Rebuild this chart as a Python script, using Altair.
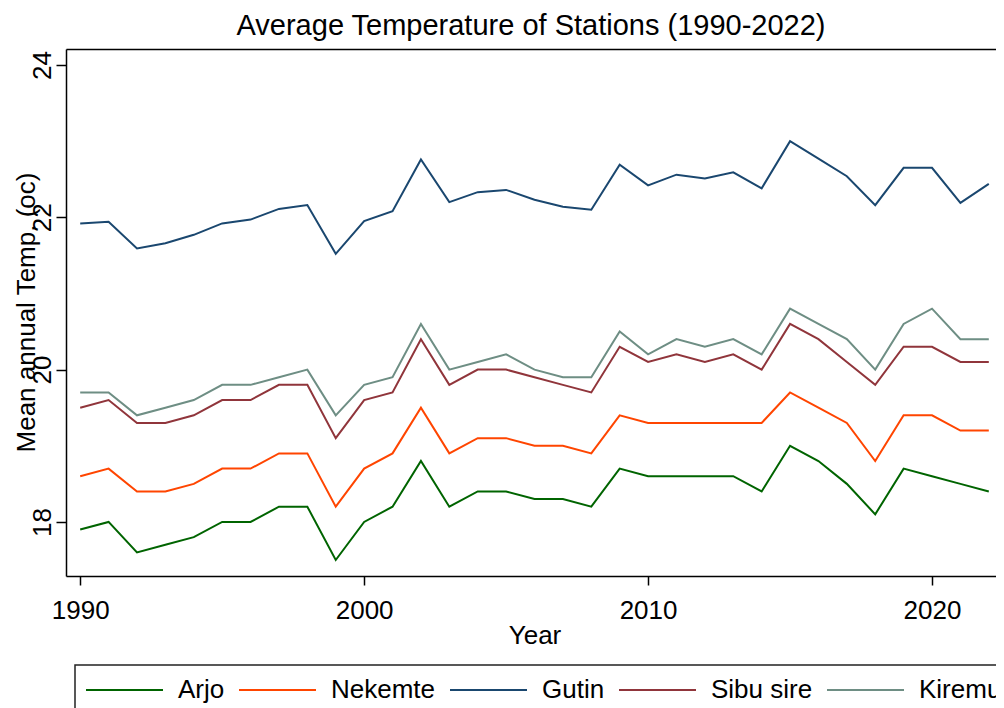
import altair as alt
import pandas as pd

years = list(range(1990, 2023))

arjo = [17.9, 18.0, 17.6, 17.7, 17.8, 18.0, 18.0, 18.2, 18.2, 17.5, 18.0,
        18.2, 18.8, 18.2, 18.4, 18.4, 18.3, 18.3, 18.2, 18.7, 18.6, 18.6,
        18.6, 18.6, 18.4, 19.0, 18.8, 18.5, 18.1, 18.7, 18.6, 18.5, 18.4]
nekemte = [18.6, 18.7, 18.4, 18.4, 18.5, 18.7, 18.7, 18.9, 18.9, 18.2, 18.7,
           18.9, 19.5, 18.9, 19.1, 19.1, 19.0, 19.0, 18.9, 19.4, 19.3, 19.3,
           19.3, 19.3, 19.3, 19.7, 19.5, 19.3, 18.8, 19.4, 19.4, 19.2, 19.2]
gutin = [21.92, 21.94, 21.59, 21.66, 21.77, 21.92, 21.97, 22.11, 22.16, 21.52, 21.95,
         22.08, 22.76, 22.20, 22.33, 22.36, 22.23, 22.14, 22.10, 22.69, 22.42, 22.56,
         22.51, 22.59, 22.38, 23.00, 22.77, 22.54, 22.16, 22.65, 22.65, 22.19, 22.44]
sibu_sire = [19.5, 19.6, 19.3, 19.3, 19.4, 19.6, 19.6, 19.8, 19.8, 19.1, 19.6,
             19.7, 20.4, 19.8, 20.0, 20.0, 19.9, 19.8, 19.7, 20.3, 20.1, 20.2,
             20.1, 20.2, 20.0, 20.6, 20.4, 20.1, 19.8, 20.3, 20.3, 20.1, 20.1]
kiremu = [19.7, 19.7, 19.4, 19.5, 19.6, 19.8, 19.8, 19.9, 20.0, 19.4, 19.8,
          19.9, 20.6, 20.0, 20.1, 20.2, 20.0, 19.9, 19.9, 20.5, 20.2, 20.4,
          20.3, 20.4, 20.2, 20.8, 20.6, 20.4, 20.0, 20.6, 20.8, 20.4, 20.4]

stations = ["Arjo", "Nekemte", "Gutin", "Sibu sire", "Kiremu"]
colors = ["#006400", "#FF4500", "#1A476F", "#90353B", "#6E8E84"]
series = [arjo, nekemte, gutin, sibu_sire, kiremu]

x_ticks = [1990, 2000, 2010, 2020]
y_ticks = [18, 20, 22, 24]

rows = []
for name, vals in zip(stations, series):
    for yr, v in zip(years, vals):
        rows.append({"Year": yr, "Temp": v, "Station": name})
df = pd.DataFrame(rows)

FONT = "Liberation Sans"

x_scale = alt.Scale(domain=[1989.5, 2022.5], range=[0, 937], nice=False, zero=False)
y_scale = alt.Scale(domain=[17.29, 24.21], nice=False, zero=False)

y_axis = alt.Axis(values=y_ticks, format="d", title="Mean annual Temp. (oc)",
                  grid=False, tickSize=10, labelPadding=6,
                  labelAngle=270, labelAlign="center", labelBaseline="alphabetic",
                  titleAngle=270, titleAlign="center", titleBaseline="alphabetic",
                  titleX=-32, titleY=263)

lines = alt.Chart(df).mark_line(strokeWidth=2).encode(
    x=alt.X("Year:Q", scale=x_scale,
            axis=alt.Axis(values=x_ticks, format="d", title="Year", grid=False,
                          tickSize=9, labelPadding=33, labelBaseline="alphabetic",
                          labelAlign="center",
                          titleBaseline="alphabetic", titleY=67)),
    y=alt.Y("Temp:Q", scale=y_scale, axis=y_axis),
    color=alt.Color("Station:N",
                    scale=alt.Scale(domain=stations, range=colors),
                    sort=stations,
                    legend=alt.Legend(orient="none", legendX=9, legendY=616,
                                      direction="horizontal", title=None,
                                      symbolType="stroke", symbolSize=5929,
                                      symbolStrokeWidth=2, clipHeight=30,
                                      labelFontSize=26,
                                      labelFont=FONT, labelColor="black",
                                      labelOffset=14, columnPadding=13,
                                      padding=10, strokeColor="#222222",
                                      fillColor="white", labelLimit=400)),
)

top_frame = alt.Chart(df).mark_line(opacity=0).encode(
    x=alt.X("Year:Q", scale=x_scale,
            axis=alt.Axis(orient="top", labels=False, ticks=False, title=None,
                          grid=False, domain=True)),
    y=alt.Y("Temp:Q", scale=y_scale, axis=y_axis),
)

chart = alt.layer(lines, top_frame).resolve_axis(x="independent").properties(
    width=930,
    height=527,
    title=alt.TitleParams("Average Temperature of Stations (1990-2022)",
                          anchor="middle", frame="group", fontSize=29,
                          fontWeight="normal", font=FONT, color="black",
                          baseline="alphabetic", offset=12, dy=27),
    autosize=alt.AutoSizeParams(type="none"),
    padding={"left": 58, "top": 41, "right": 0, "bottom": 132},
).configure_view(
    stroke=None
).configure_axis(
    labelFont=FONT, labelFontSize=26, labelColor="black",
    titleFont=FONT, titleFontSize=26, titleFontWeight="normal", titleColor="black",
    domainColor="black", domainWidth=1.5, tickColor="black", tickWidth=1.5,
).configure_legend(
    strokeWidth=1.5
)

chart.save("out.html", embed_options={"renderer": "svg", "actions": False})
